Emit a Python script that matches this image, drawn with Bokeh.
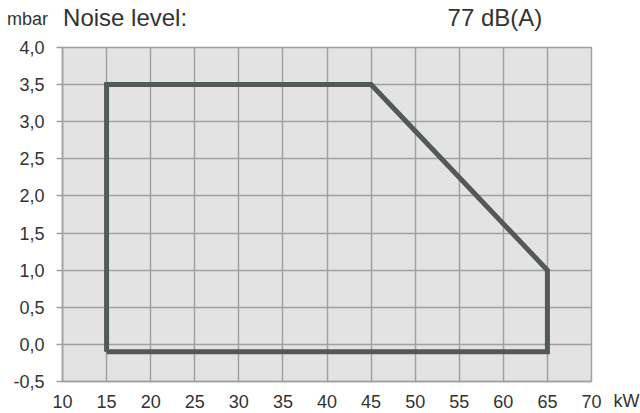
from bokeh.plotting import figure
from bokeh.models import LinearAxis, FixedTicker, Range1d
from bokeh.embed import file_html
from bokeh.resources import INLINE

# Data
power_kw = [15, 15, 45, 65, 65, 15]
pressure_mbar = [-0.1, 3.5, 3.5, 1.0, -0.1, -0.1]
x_ticks = [10, 15, 20, 25, 30, 35, 40, 45, 50, 55, 60, 65, 70]
y_ticks = [-0.5, 0.0, 0.5, 1.0, 1.5, 2.0, 2.5, 3.0, 3.5, 4.0]
y_tick_labels = {t: f"{t:.1f}".replace(".", ",") for t in y_ticks}
y_unit = "mbar"
x_unit = "kW"
noise_label = "Noise level:"
noise_value = "77 dB(A)"

FONT = "Liberation Sans"
TXT = "#333333"
GRID = "#a0a0a0"
PAD = "\u2007"  # figure space used as a fixed-width gap

p = figure(width=640, height=413, output_backend="svg", toolbar_location=None,
           x_range=Range1d(10, 70), y_range=Range1d(-0.5, 4.0),
           min_border_left=62, min_border_right=49, min_border_top=45, min_border_bottom=32)
p.background_fill_color = "#e3e3e3"
p.border_fill_color = "white"
p.outline_line_color = GRID
p.outline_line_width = 1.5

p.xaxis.ticker = FixedTicker(ticks=x_ticks)
p.yaxis.ticker = FixedTicker(ticks=y_ticks)
p.yaxis.major_label_overrides = y_tick_labels
p.xgrid.ticker = FixedTicker(ticks=x_ticks)
p.ygrid.ticker = FixedTicker(ticks=y_ticks)
for g in (p.xgrid, p.ygrid):
    g.grid_line_color = GRID
    g.grid_line_width = 1.5

for ax in (p.xaxis, p.yaxis):
    ax.major_label_text_font = FONT
    ax.major_label_text_font_size = "18px"
    ax.major_label_text_color = TXT
    ax.minor_tick_line_color = None
    ax.axis_line_color = GRID
    ax.axis_line_width = 1.5
    ax.major_tick_in = 0

p.xaxis.major_tick_line_color = None
p.xaxis.major_tick_out = 0
p.xaxis.major_label_standoff = 13
p.yaxis.major_tick_line_color = GRID
p.yaxis.major_tick_line_width = 1.5
p.yaxis.major_tick_out = 6
p.yaxis.major_label_standoff = 12

p.line(power_kw, pressure_mbar, line_color="#535858", line_width=5, line_join="miter")


def text_axis(side, ticks, labels, size, standoff, baseline):
    ax = LinearAxis(ticker=FixedTicker(ticks=ticks),
                    major_label_overrides=dict(zip(ticks, labels)),
                    axis_line_color=None, major_tick_line_color=None,
                    minor_tick_line_color=None,
                    major_tick_in=0, major_tick_out=0,
                    major_label_standoff=standoff,
                    major_label_text_font=FONT,
                    major_label_text_font_size=size,
                    major_label_text_color=TXT,
                    major_label_text_baseline=baseline)
    p.add_layout(ax, side)
    return ax


# header line at the top of the chart (labels are centred on their ticks)
text_axis("above", [17.1, 59.05], [noise_label, noise_value], "24px", 17, "bottom")
# unit of the vertical axis, above its top-left corner (padding shifts it left of the frame)
text_axis("above", [10], [y_unit + PAD * 7], "18px", -28, "bottom")
# unit of the horizontal axis, right of the last tick label (padding shifts it right)
text_axis("below", [70], [PAD * 7 + x_unit], "18px", -20, "top")

open("out.html", "w").write(file_html(p, INLINE))
